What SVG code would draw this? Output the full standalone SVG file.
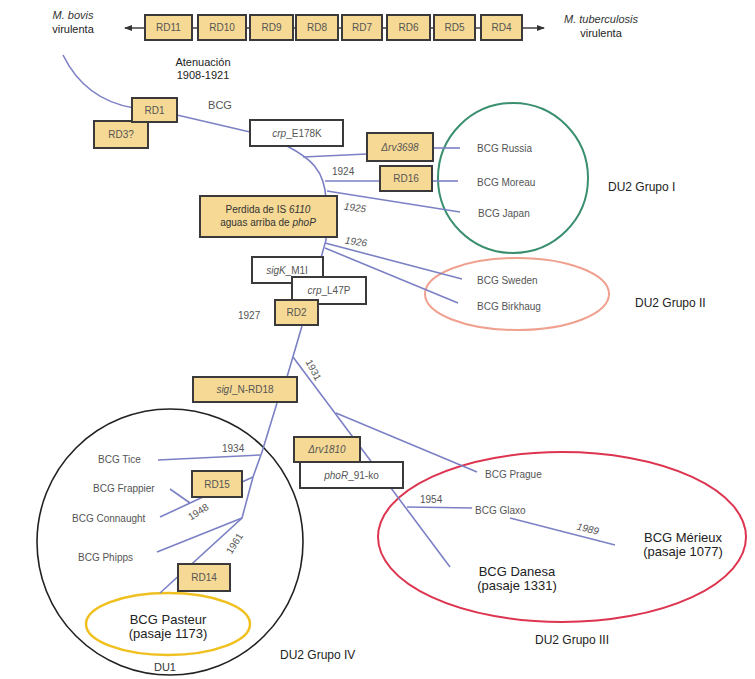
<svg xmlns="http://www.w3.org/2000/svg" width="755" height="679" viewBox="0 0 755 679">
<defs>
<marker id="arr" markerWidth="8" markerHeight="6" refX="7" refY="3" orient="auto" markerUnits="userSpaceOnUse"><path d="M0,0 L8,3 L0,6 Z" fill="#333"/></marker>
<style>
.bx{fill:#f5d994;stroke:#3a3a3a;stroke-width:2}
.wb{fill:#fff;stroke:#3a3a3a;stroke-width:2}
.t{font-family:"Liberation Sans",Arial,sans-serif;font-size:10px;fill:#555;text-anchor:middle}
.tl{font-family:"Liberation Sans",Arial,sans-serif;font-size:10px;fill:#555}
.g{font-family:"Liberation Sans",Arial,sans-serif;font-size:12px;fill:#222}
.big{font-family:"Liberation Sans",Arial,sans-serif;font-size:13px;fill:#222;text-anchor:middle}
.c{fill:none;stroke:#7c80c4;stroke-width:1.6}
.it{font-style:italic}
</style>
</defs>
<rect width="755" height="679" fill="#fff"/>

<g id="groups">
<circle id="grupo1" cx="513" cy="178" r="75" fill="none" stroke="#3a8f6e" stroke-width="2"/>
<ellipse id="grupo2" cx="517" cy="294" rx="92" ry="36" fill="none" stroke="#f0a08e" stroke-width="2"/>
<ellipse id="grupo3" cx="562" cy="537" rx="184" ry="85" fill="none" stroke="#dd3550" stroke-width="2"/>
<circle id="grupo4" cx="170" cy="542" r="133" fill="none" stroke="#222" stroke-width="1.6"/>
<ellipse id="du1" cx="168" cy="624" rx="82" ry="31" fill="none" stroke="#f0c020" stroke-width="2.5"/>
</g>

<g id="connectors">
<line x1="125" y1="28" x2="144" y2="28" stroke="#333" stroke-width="1.4" marker-end="url(#arr)" transform="rotate(180 134.5 28)"/>
<line x1="192" y1="28" x2="198" y2="28" stroke="#333" stroke-width="1.4"/>
<line x1="246" y1="28" x2="250" y2="28" stroke="#333" stroke-width="1.4"/>
<line x1="293" y1="28" x2="296" y2="28" stroke="#333" stroke-width="1.4"/>
<line x1="338" y1="28" x2="342" y2="28" stroke="#333" stroke-width="1.4"/>
<line x1="382" y1="28" x2="387" y2="28" stroke="#333" stroke-width="1.4"/>
<line x1="430" y1="28" x2="434" y2="28" stroke="#333" stroke-width="1.4"/>
<line x1="475" y1="28" x2="481" y2="28" stroke="#333" stroke-width="1.4"/>
<line x1="522" y1="28" x2="544" y2="28" stroke="#333" stroke-width="1.4" marker-end="url(#arr)"/>

<path class="c" d="M63 55 Q85 100 134 108"/>
<line class="c" x1="177" y1="115" x2="250" y2="132"/>
<path class="c" d="M287 146 C310 158 325 170 326 200 L326 240 L302 326 L287 377"/>
<line class="c" x1="303" y1="157" x2="367" y2="154"/>
<line class="c" x1="433" y1="148" x2="460" y2="148"/>
<line class="c" x1="325" y1="181" x2="380" y2="181"/>
<line class="c" x1="432" y1="181" x2="458" y2="181"/>
<line class="c" x1="327" y1="191" x2="460" y2="212"/>
<line class="c" x1="325" y1="243" x2="462" y2="279"/>
<line class="c" x1="325" y1="248" x2="458" y2="303"/>
<line class="c" x1="293" y1="357" x2="450" y2="567"/>
<line class="c" x1="336" y1="413" x2="477" y2="472"/>
<line class="c" x1="407" y1="507" x2="472" y2="508"/>
<line class="c" x1="510" y1="518" x2="615" y2="545"/>
<path class="c" d="M277 403 L262 452 L253 477 L242 518 L160 593"/>
<line class="c" x1="260" y1="455" x2="158" y2="460"/>
<line class="c" x1="242" y1="482" x2="253" y2="477"/>
<line class="c" x1="170" y1="489" x2="190" y2="503"/>
<line class="c" x1="160" y1="517" x2="203" y2="497"/>
<line class="c" x1="242" y1="518" x2="157" y2="552"/>
</g>

<g id="top-row">
<g id="rd11"><rect class="bx" x="145" y="15" width="47" height="25"/><text class="t" x="168.5" y="31">RD11</text></g>
<g id="rd10"><rect class="bx" x="198" y="15" width="48" height="25"/><text class="t" x="222" y="31">RD10</text></g>
<g id="rd9"><rect class="bx" x="250" y="15" width="43" height="25"/><text class="t" x="271.5" y="31">RD9</text></g>
<g id="rd8"><rect class="bx" x="296" y="15" width="42" height="25"/><text class="t" x="317" y="31">RD8</text></g>
<g id="rd7"><rect class="bx" x="342" y="15" width="40" height="25"/><text class="t" x="362" y="31">RD7</text></g>
<g id="rd6"><rect class="bx" x="387" y="15" width="43" height="25"/><text class="t" x="408.5" y="31">RD6</text></g>
<g id="rd5"><rect class="bx" x="434" y="15" width="41" height="25"/><text class="t" x="454.5" y="31">RD5</text></g>
<g id="rd4"><rect class="bx" x="481" y="15" width="41" height="25"/><text class="t" x="501.5" y="31">RD4</text></g>
</g>

<g id="labels-top">
<text class="t it" x="73" y="19" style="fill:#333;font-size:11px">M. bovis</text>
<text class="t" x="73" y="33" style="fill:#222;font-size:11px">virulenta</text>
<text class="t it" x="601" y="23" style="fill:#333;font-size:11px">M. tuberculosis</text>
<text class="t" x="601" y="37" style="fill:#222;font-size:11px">virulenta</text>
<text class="t" x="203" y="66" style="fill:#222;font-size:11px">Atenuación</text>
<text class="t" x="203" y="79" style="fill:#222;font-size:11px">1908-1921</text>
<text class="t" x="220" y="109" style="font-size:11px">BCG</text>
</g>

<g id="rd3"><rect class="bx" x="94" y="121" width="54" height="27"/><text class="t" x="121" y="138">RD3?</text></g>
<g id="rd1"><rect class="bx" x="132" y="98" width="45" height="24"/><text class="t" x="154.5" y="114">RD1</text></g>
<g id="crpE178K"><rect class="wb" x="250" y="120" width="93" height="26"/><text class="t" x="297" y="137"><tspan class="it">crp</tspan>_E178K</text></g>
<g id="rv3698"><rect class="bx" x="367" y="133" width="66" height="28"/><text class="t it" x="400" y="151">Δrv3698</text></g>
<g id="rd16"><rect class="bx" x="380" y="166" width="52" height="25"/><text class="t" x="406" y="182">RD16</text></g>
<g id="phoP"><rect class="bx" x="200" y="196" width="137" height="41"/><text class="t" x="268" y="213" style="fill:#333">Perdida de IS <tspan class="it">6110</tspan></text><text class="t" x="268" y="226" style="fill:#333">aguas arriba de <tspan class="it">phoP</tspan></text></g>

<g id="grupo1-labels">
<text class="tl" x="477" y="152">BCG Russia</text>
<text class="tl" x="477" y="186">BCG Moreau</text>
<text class="tl" x="478" y="217">BCG Japan</text>
<text class="g" x="608" y="191">DU2 Grupo I</text>
<text class="tl" x="332" y="175">1924</text>
<text class="tl it" x="344" y="211" transform="rotate(8 355 207)">1925</text>
<text class="tl it" x="345" y="245" transform="rotate(8 356 241)">1926</text>
</g>

<g id="grupo2-labels">
<text class="tl" x="477" y="284">BCG Sweden</text>
<text class="tl" x="477" y="310">BCG Birkhaug</text>
<text class="g" x="635" y="307">DU2 Grupo II</text>
</g>

<g id="sigK"><rect class="wb" x="252" y="257" width="71" height="26"/><text class="t" x="287" y="274"><tspan class="it">sigK</tspan>_M1I</text></g>
<g id="crpL47P"><rect class="wb" x="292" y="277" width="74" height="27"/><text class="t" x="329" y="294"><tspan class="it">crp</tspan>_L47P</text></g>
<g id="rd2"><rect class="bx" x="275" y="300" width="43" height="25"/><text class="t" x="296.5" y="316">RD2</text></g>
<text class="tl" x="238" y="319">1927</text>
<text class="tl" x="305" y="370" transform="rotate(62 312 366)">1931</text>

<g id="sigI"><rect class="bx" x="193" y="377" width="104" height="25"/><text class="t" x="245" y="393"><tspan class="it">sigI</tspan>_N-RD18</text></g>

<g id="grupo4-labels">
<text class="tl" x="98" y="463">BCG Tice</text>
<text class="tl" x="222" y="452">1934</text>
<text class="tl" x="93" y="492">BCG Frappier</text>
<text class="tl" x="72" y="522">BCG Connaught</text>
<text class="tl" x="187" y="516" transform="rotate(-32 197 512)">1948</text>
<text class="tl" x="78" y="561">BCG Phipps</text>
<text class="tl" x="224" y="549" transform="rotate(-58 233 545)">1961</text>
<text class="big" x="168" y="624">BCG Pasteur</text>
<text class="big" x="168" y="638">(pasaje 1173)</text>
<text class="t" x="165" y="671" style="fill:#333;font-size:11px">DU1</text>
<text class="g" x="280" y="659">DU2 Grupo IV</text>
</g>

<g id="rd15"><rect class="bx" x="192" y="471" width="50" height="26"/><text class="t" x="217" y="488">RD15</text></g>
<g id="rd14"><rect class="bx" x="178" y="564" width="52" height="27"/><text class="t" x="204" y="581">RD14</text></g>

<g id="rv1810"><rect class="bx" x="294" y="437" width="66" height="25"/><text class="t it" x="327" y="453">Δrv1810</text></g>
<g id="phoR"><rect class="wb" x="300" y="462" width="103" height="26"/><text class="t" x="351.5" y="479"><tspan class="it">phoR</tspan>_91-ko</text></g>

<g id="grupo3-labels">
<text class="tl" x="485" y="478">BCG Prague</text>
<text class="tl" x="420" y="503">1954</text>
<text class="tl" x="475" y="514">BCG Glaxo</text>
<text class="tl it" x="577" y="532" transform="rotate(14 587 528)">1989</text>
<text class="big" x="683" y="542">BCG Mérieux</text>
<text class="big" x="683" y="556">(pasaje 1077)</text>
<text class="big" x="517" y="576">BCG Danesa</text>
<text class="big" x="517" y="590">(pasaje 1331)</text>
<text class="g" x="535" y="644">DU2 Grupo III</text>
</g>
</svg>
